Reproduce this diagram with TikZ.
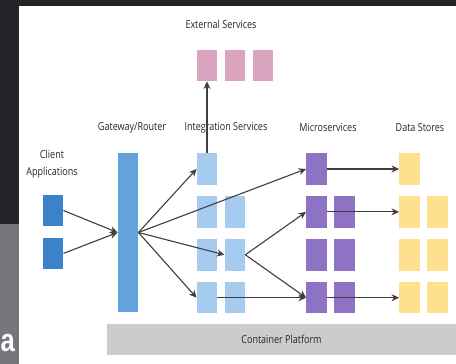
\documentclass[tikz,border=0pt]{standalone}
\usepackage{fontspec}
\setmainfont{Open Sans}[FakeStretch=0.82]
\newfontfamily\slidefont{Liberation Sans}[FakeStretch=0.8]
\usetikzlibrary{arrows.meta, positioning}
\definecolor{clientblue}{HTML}{3C82C8}
\definecolor{gateblue}{HTML}{64A2DC}
\definecolor{integblue}{HTML}{A6CBEE}
\definecolor{micropurple}{HTML}{8E72C4}
\definecolor{storeyellow}{HTML}{FFE08E}
\definecolor{extpink}{HTML}{D8A4BE}
\definecolor{platgray}{HTML}{CCCCCC}
\definecolor{slidedark}{HTML}{222428}
\definecolor{slidegray}{HTML}{77767D}
\definecolor{arrowgray}{HTML}{3E3E42}

\begin{document}
\begin{tikzpicture}[
    x=1pt, y=-1pt,
    node distance=11pt and 7pt,
    >={Stealth[length=7.5pt, width=7pt]},
    font=\fontsize{11}{17}\selectfont,
    box/.style={rectangle, inner sep=0pt, minimum width=20.5pt, minimum height=31.5pt},
    client/.style={box, fill=clientblue},
    gateway/.style={box, fill=gateblue, minimum height=159pt},
    integ/.style={box, fill=integblue},
    micro/.style={box, fill=micropurple},
    store/.style={box, fill=storeyellow},
    external/.style={box, fill=extpink},
    platform/.style={rectangle, inner sep=0pt, fill=platgray, minimum width=349pt, minimum height=31pt, text=black!85},
    header/.style={inner sep=0pt, text=black!85, align=center},
    slidetext/.style={inner sep=0pt, text=white, font=\slidefont\bfseries\fontsize{32}{32}\selectfont},
    arrow/.style={->, line width=1.1pt, arrowgray}
  ]
  \useasboundingbox (0,0) rectangle (456,364);
  \fill[white] (0,0) rectangle (456,364);
  \fill[slidedark] (0,0) rectangle (456,6);
  \fill[slidedark] (0,0) rectangle (19,224);
  \fill[slidegray] (0,224) rectangle (19,364);
  \node[slidetext, anchor=west] (slidea) at (0.5,343) {a};

  \node[header] (extlabel) at (221,24) {External Services};
  \node[header] (clientlabel) at (52,164.5) {Client\\Applications};
  \node[header] (gwlabel) at (132,128) {Gateway/Router};
  \node[header] (intlabel) at (226,128) {Integration Services};
  \node[header] (mslabel) at (328,128) {Microservices};
  \node[header] (dslabel) at (420,128) {Data Stores};

  \node[external] (ext1) at (207,65.5) {};
  \node[external, right=of ext1] (ext2) {};
  \node[external, right=of ext2] (ext3) {};

  \node[client] (client1) at (53,210.5) {};
  \node[client, below=of client1] (client2) {};

  \node[gateway] (gw) at (128,232.5) {};

  \node[integ] (int1) at (207,169) {};
  \node[integ, below=of int1] (int2) {};
  \node[integ, below=of int2] (int3) {};
  \node[integ, below=of int3] (int4) {};
  \node[integ, right=of int2] (int2b) {};
  \node[integ, right=of int3] (int3b) {};
  \node[integ, right=of int4] (int4b) {};

  \node[micro] (ms1) at (316.5,169) {};
  \node[micro, below=of ms1] (ms2) {};
  \node[micro, below=of ms2] (ms3) {};
  \node[micro, below=of ms3] (ms4) {};
  \node[micro, right=of ms2] (ms2b) {};
  \node[micro, right=of ms3] (ms3b) {};
  \node[micro, right=of ms4] (ms4b) {};

  \node[store] (ds1) at (409.5,169) {};
  \node[store, below=of ds1] (ds2) {};
  \node[store, below=of ds2] (ds3) {};
  \node[store, below=of ds3] (ds4) {};
  \node[store, right=of ds2] (ds2b) {};
  \node[store, right=of ds3] (ds3b) {};
  \node[store, right=of ds4] (ds4b) {};

  \node[platform] (platform) at (281.5,339.5) {Container Platform};

  \draw[arrow] (client1.east) -- (gw.west);
  \draw[arrow] (client2.east) -- (gw.west);
  \draw[arrow] (gw.east) -- (int1.west);
  \draw[arrow] (gw.east) -- (ms1.west);
  \draw[arrow] (gw.east) -- (int3b.west);
  \draw[arrow] (gw.east) -- (int4.west);
  \draw[arrow] (int1.north) -- (ext1.south);
  \draw[arrow] (int3b.east) -- (ms2.west);
  \draw[arrow] (int3b.east) -- (ms4.west);
  \draw[arrow] (int4.east) -- (ms4.west);
  \draw[arrow] (ms1.east) -- (ds1.west);
  \draw[arrow] (ms2.east) -- (ds2.west);
  \draw[arrow] (ms4.east) -- (ds4.west);
\end{tikzpicture}
\end{document}
